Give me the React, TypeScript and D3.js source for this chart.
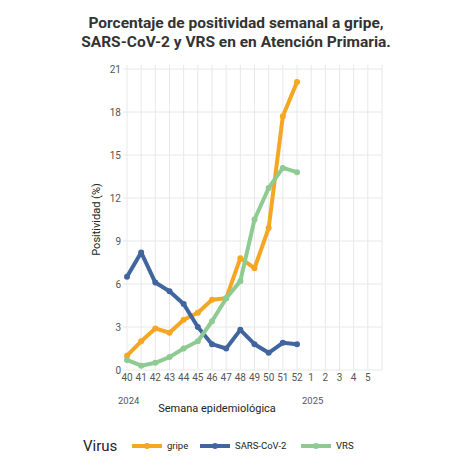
import React from "react";
import * as d3 from "d3";

const weeks = ["40","41","42","43","44","45","46","47","48","49","50","51","52","1","2","3","4","5"];
const gripe = [1.0, 2.0, 2.9, 2.6, 3.5, 4.0, 4.9, 5.0, 7.8, 7.1, 9.9, 17.7, 20.1];
const sars = [6.5, 8.2, 6.1, 5.5, 4.6, 3.0, 1.8, 1.5, 2.8, 1.8, 1.2, 1.9, 1.8];
const vrs = [0.7, 0.3, 0.5, 0.9, 1.5, 2.0, 3.4, 5.0, 6.2, 10.5, 12.7, 14.1, 13.8];
const yTicks = [0, 3, 6, 9, 12, 15, 18, 21];
const seriesNames = ["gripe", "SARS-CoV-2", "VRS"];
const colors = ["#F5A623", "#41659E", "#8ECB93"];

export default function App() {
  const W = 463, H = 476;
  const x = d3.scaleLinear().domain([0, 18]).range([127, 382]);
  const y = d3.scaleLinear().domain([0, 21]).range([370, 69]);
  const line = d3.line<number>().x((_, i) => x(i)).y(d => y(d));
  const series = [gripe, sars, vrs];
  const font = "Roboto, 'Liberation Sans', sans-serif";
  const gridIdx = d3.range(0, 19);
  return (
    <svg width={W} height={H} style={{ position: "absolute", left: 0, top: 0, background: "#fff" }} fontFamily={font}>
      <rect width={W} height={H} fill="#fff" />
      <text x={236} y={28} textAnchor="middle" fontSize={15.5} fontWeight="bold" fill="#333">Porcentaje de positividad semanal a gripe,</text>
      <text x={236} y={47} textAnchor="middle" fontSize={15.5} fontWeight="bold" fill="#333">SARS-CoV-2 y VRS en en Atención Primaria.</text>
      {gridIdx.map(i => (
        <line key={"v" + i} x1={x(i)} x2={x(i)} y1={65} y2={370} stroke="#e8e8e8" strokeWidth={1} />
      ))}
      {yTicks.map(t => (
        <g key={"y" + t}>
          <line x1={123} x2={382} y1={y(t)} y2={y(t)} stroke="#e8e8e8" strokeWidth={1} />
          <text x={121} y={y(t)} dy="0.35em" textAnchor="end" fontSize={10} fill="#555">{t}</text>
        </g>
      ))}
      {weeks.map((w, i) => (
        <text key={"x" + i} x={x(i)} y={381} textAnchor="middle" fontSize={10} fill="#555">{w}</text>
      ))}
      <text x={118} y={404} fontSize={9.5} fill="#555">2024</text>
      <text x={302} y={404} fontSize={9.5} fill="#555">2025</text>
      <text x={217} y={412} textAnchor="middle" fontSize={11} fill="#222">Semana epidemiológica</text>
      <text transform={`translate(100,${y(10.5)}) rotate(-90)`} textAnchor="middle" fontSize={11} fill="#222">Positividad (%)</text>
      {series.map((s, k) => (
        <g key={"s" + k}>
          <path d={line(s) || ""} fill="none" stroke={colors[k]} strokeWidth={4} strokeLinejoin="round" strokeLinecap="round" />
          {s.map((v, i) => (
            <circle key={i} cx={x(i)} cy={y(v)} r={3} fill={colors[k]} />
          ))}
        </g>
      ))}
      <text x={83} y={451} fontSize={15} fill="#222">Virus</text>
      {seriesNames.map((n, k) => {
        const lx = [132, 200, 301][k];
        return (
          <g key={"l" + k}>
            <line x1={lx} x2={lx + 30} y1={446} y2={446} stroke={colors[k]} strokeWidth={4} />
            <circle cx={lx + 15} cy={446} r={3} fill={colors[k]} />
            <text x={lx + 35} y={446} dy="0.35em" fontSize={9.5} fill="#222">{n}</text>
          </g>
        );
      })}
    </svg>
  );
}
